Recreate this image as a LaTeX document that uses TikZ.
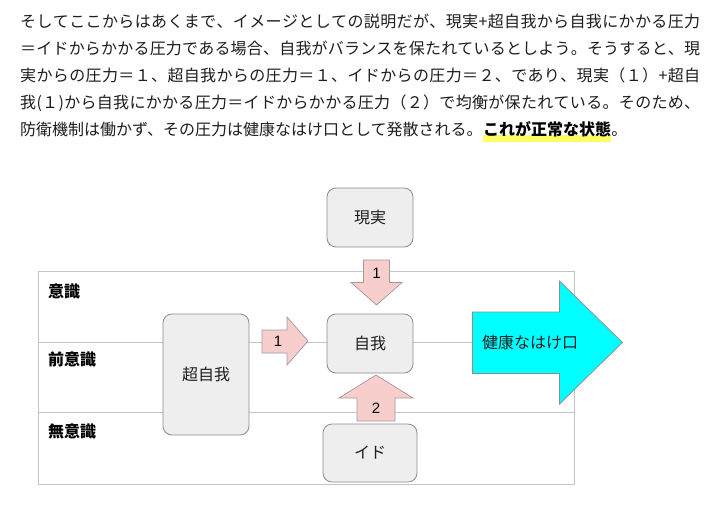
\documentclass[tikz,border=0pt]{standalone}
\usepackage{fontspec}
\setmainfont{Noto Sans CJK JP}
\newfontfamily\lat{Liberation Sans}
\usetikzlibrary{backgrounds,calc}
\definecolor{txt}{HTML}{1E1E1E}
\definecolor{framegray}{HTML}{C4C4C4}
\definecolor{boxgray}{HTML}{8C8C8C}
\definecolor{boxfill}{HTML}{EEEEEE}
\definecolor{pinkfill}{HTML}{F8CECC}
\definecolor{pinkdraw}{HTML}{A09A9A}
\definecolor{cyanfill}{HTML}{00FFFF}
\definecolor{hlyellow}{HTML}{FFFF66}
\def\spend{SPEND-MARKER}
\def\sploop#1{\ifx#1\spend\else#1\hskip 0pt plus 1fil\relax\expandafter\sploop\fi}
\newcommand\jline[1]{\hbox to 680pt{\sploop#1\spend\unskip}}
\tikzset{
  para/.style={anchor=base west, inner sep=0pt, text=txt, font=\fontsize{16}{16}\selectfont},
  frameline/.style={draw=framegray, line width=1pt},
  box/.style={draw=boxgray, fill=boxfill, rounded corners=9pt, line width=0.8pt, inner sep=0pt,
    text=txt, font=\fontsize{16}{16}\selectfont},
  layer/.style={anchor=west, inner sep=0pt, text=black, font=\fontsize{16}{16}\selectfont\bfseries},
  pinkarrow/.style={draw=pinkdraw, fill=pinkfill, line width=0.7pt, line join=miter},
  cyanarrow/.style={draw=boxgray, fill=cyanfill, line width=0.7pt, line join=miter},
  num/.style={inner sep=0pt, text=black, font=\lat\fontsize{15}{15}\selectfont},
}
\begin{document}
\begin{tikzpicture}[x=1pt,y=-1pt]
\useasboundingbox (0,0) rectangle (722,507);
% paragraph
\node[para] (l1) at (20,27) {\jline{そしてここからはあくまで、イメージとしての説明だが、現実+超自我から自我にかかる圧力}};
\node[para] (l2) at (20,54) {\jline{＝イドからかかる圧力である場合、自我がバランスを保たれているとしよう。そうすると、現}};
\node[para] (l3) at (20,81) {\jline{実からの圧力＝１、超自我からの圧力＝１、イドからの圧力＝２、であり、現実（１）+超自}};
\node[para] (l4) at (20,108) {\jline{我(１)から自我にかかる圧力＝イドからかかる圧力（２）で均衡が保たれている。そのため、}};
\node[para] (l5a) at (20,135) {防衛機制は働かず、その圧力は健康なはけ口として発散される。};
\node[para, font=\fontsize{16}{16}\selectfont\bfseries, text=black] (l5b) at (l5a.base east) {これが正常な状態};
\node[para] (l5c) at (l5b.base east) {。};
\begin{pgfonlayer}{background}
\fill[white] (0,0) rectangle (722,507);
\fill[hlyellow] (l5b.base west) rectangle ($(l5b.base east)+(0,7)$);
\end{pgfonlayer}
% frame
\coordinate (fTL) at (38,271);
\coordinate (fBR) at (574,484);
\draw[frameline] (fTL) rectangle (fBR);
\coordinate (d1L) at (38,342);
\coordinate (d1R) at (574,342);
\coordinate (d2L) at (38,412.5);
\coordinate (d2R) at (574,412.5);
\draw[frameline] (d1L) -- (d1R);
\draw[frameline] (d2L) -- (d2R);
\node[layer] (ishiki) at (48,291) {意識};
\node[layer] (zen) at (48,359) {前意識};
\node[layer] (mu) at (48,431) {無意識};
% boxes
\node[box, minimum width=86pt, minimum height=121pt] (choujiga) at (206,374.5) {超自我};
\node[box, minimum width=86pt, minimum height=59pt] (genjitsu) at (370,217.5) {現実};
\node[box, minimum width=86pt, minimum height=59pt] (jiga) at (370,343.5) {自我};
\node[box, minimum width=94pt, minimum height=58pt] (ido) at (370,453) {イド};
% right pink arrow (superego -> ego)
\draw[pinkarrow] (262,330) -- (287,330) -- (287,317) -- (308,341) -- (287,365) -- (287,353) -- (262,353) -- cycle;
\node[num] (n1a) at (278,341) {1};
% down pink arrow (reality -> ego)
\draw[pinkarrow] (363.5,260) -- (389.5,260) -- (389.5,282.5) -- (402,282.5) -- (376.5,305) -- (351,282.5) -- (363.5,282.5) -- cycle;
\node[num] (n1b) at (376.5,273) {1};
% up pink arrow (id -> ego)
\draw[pinkarrow] (357,421) -- (395,421) -- (395,398) -- (413,398) -- (376,375) -- (339,398) -- (357,398) -- cycle;
\node[num] (n2) at (376,408) {2};
% cyan outlet arrow
\draw[cyanarrow] (472.5,312) -- (559.5,312) -- (559.5,281) -- (622.5,342.5) -- (559.5,404) -- (559.5,373.5) -- (472.5,373.5) -- cycle;
\node[anchor=west, inner sep=0pt, text=txt, font=\fontsize{16}{16}\selectfont] (outlet) at (482,342.5) {健康なはけ口};
\end{tikzpicture}
\end{document}
